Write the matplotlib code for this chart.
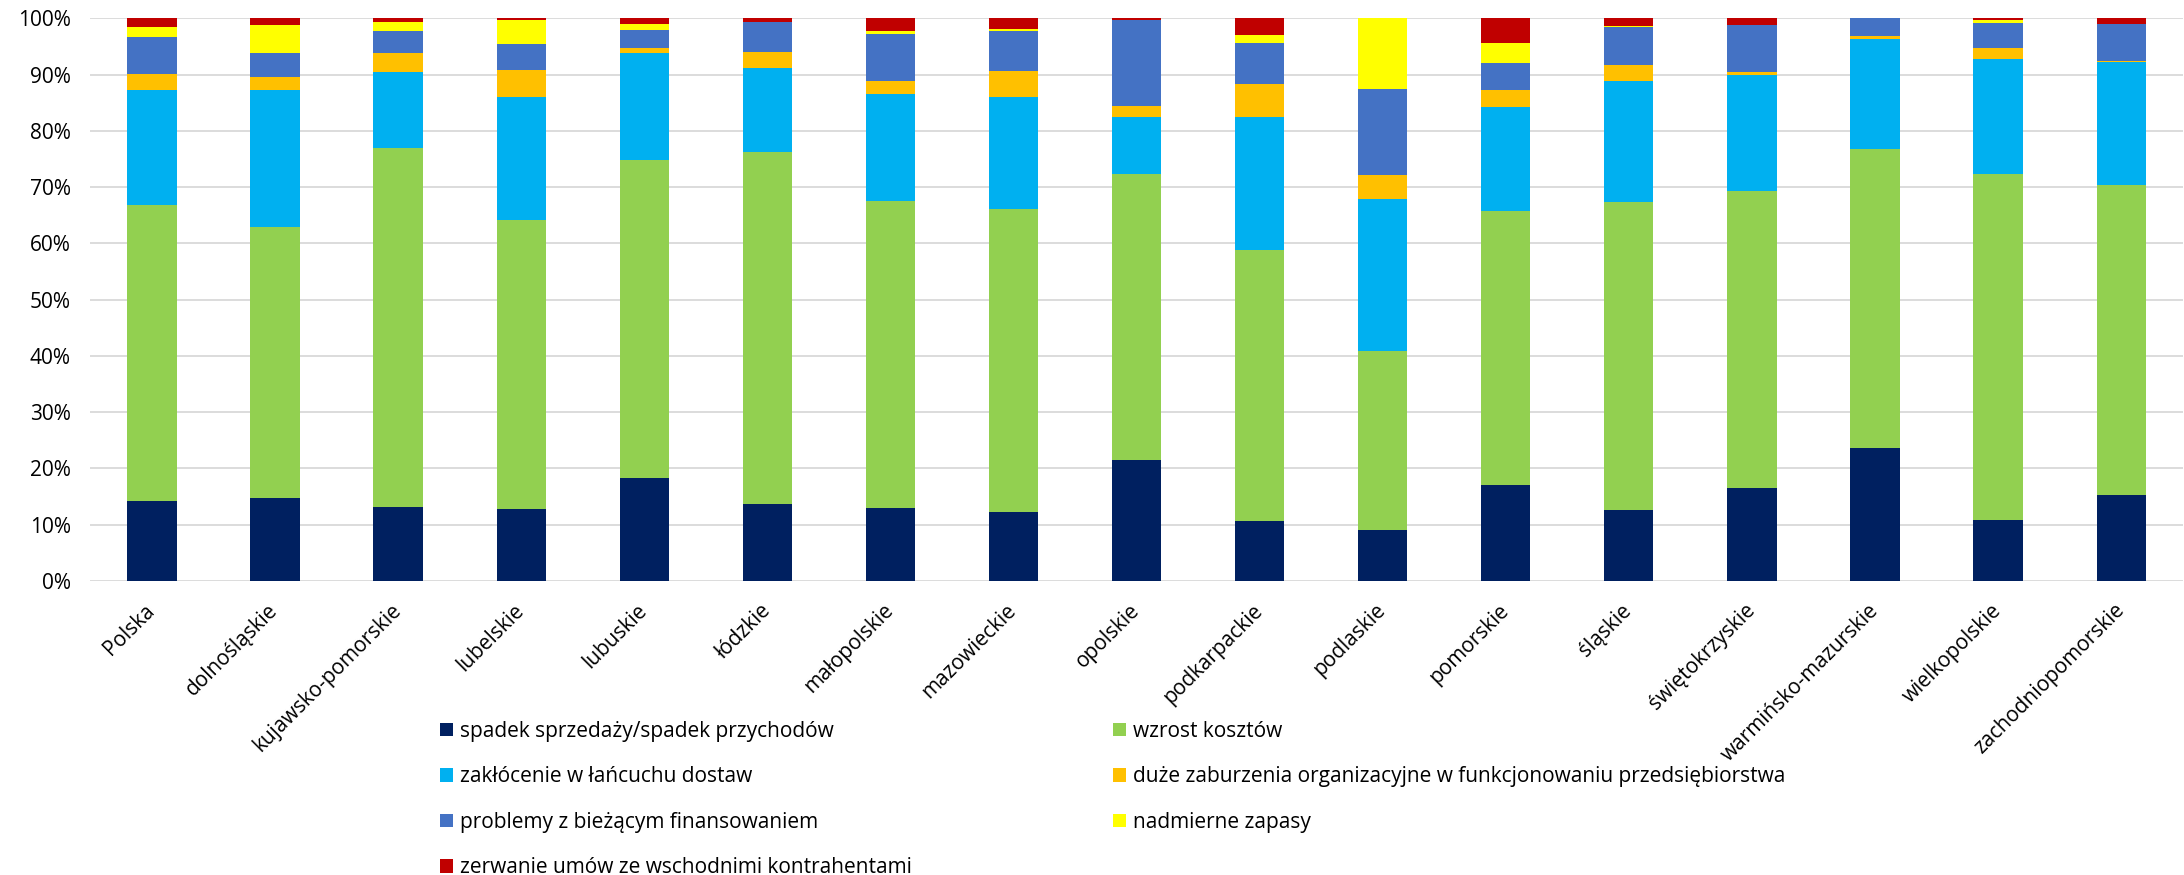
import numpy as np
import matplotlib
matplotlib.use('Agg')
import matplotlib.pyplot as plt
from matplotlib.ticker import PercentFormatter

plt.rcParams['font.family'] = ['Open Sans', 'DejaVu Sans']

# dane (udział w %)
regiony = ["Polska", "dolnośląskie", "kujawsko-pomorskie", "lubelskie", "lubuskie",
           "łódzkie", "małopolskie", "mazowieckie", "opolskie", "podkarpackie",
           "podlaskie", "pomorskie", "śląskie", "świętokrzyskie",
           "warmińsko-mazurskie", "wielkopolskie", "zachodniopomorskie"]

spadek_sprzedazy = [14.3, 14.7, 13.1, 12.8, 18.3, 13.7, 12.9, 12.2, 21.5, 10.7, 9.0, 17.1, 12.6, 16.5, 23.6, 10.9, 15.2]
wzrost_kosztow = [52.5, 48.3, 63.9, 51.4, 56.6, 62.5, 54.6, 54.0, 50.8, 48.2, 31.8, 48.7, 54.7, 52.8, 53.2, 61.4, 55.1]
zaklocenie_dostaw = [20.4, 24.3, 13.5, 21.8, 18.9, 15.0, 19.0, 19.9, 10.2, 23.5, 27.1, 18.5, 21.6, 20.6, 19.5, 20.5, 21.9]
zaburzenia_org = [2.9, 2.2, 3.3, 4.8, 1.0, 2.8, 2.3, 4.6, 1.9, 6.0, 4.3, 2.9, 2.8, 0.5, 0.6, 1.9, 0.3]
problemy_fin = [6.6, 4.3, 4.0, 4.7, 3.2, 5.3, 8.5, 7.1, 15.3, 7.3, 15.3, 4.9, 6.8, 8.4, 3.1, 4.5, 6.5]
nadmierne_zapasy = [1.8, 5.1, 1.5, 4.2, 1.0, 0.0, 0.4, 0.4, 0.0, 1.4, 12.5, 3.5, 0.2, 0.0, 0.0, 0.5, 0.0]
zerwanie_umow = [1.5, 1.1, 0.7, 0.3, 1.0, 0.7, 2.3, 1.8, 0.3, 2.9, 0.0, 4.4, 1.3, 1.2, 0.0, 0.3, 1.0]

serie = [
    ("spadek sprzedaży/spadek przychodów", spadek_sprzedazy, '#002060'),
    ("wzrost kosztów", wzrost_kosztow, '#92D050'),
    ("zakłócenie w łańcuchu dostaw", zaklocenie_dostaw, '#00B0F0'),
    ("duże zaburzenia organizacyjne w funkcjonowaniu przedsiębiorstwa", zaburzenia_org, '#FFC000'),
    ("problemy z bieżącym finansowaniem", problemy_fin, '#4472C4'),
    ("nadmierne zapasy", nadmierne_zapasy, '#FFFF00'),
    ("zerwanie umów ze wschodnimi kontrahentami", zerwanie_umow, '#C00000'),
]

fig = plt.figure(figsize=(21.84, 8.75), dpi=100)
ax = fig.add_axes([0.0414, 0.336, 0.958, 0.643])

x = np.arange(len(regiony))
dol = np.zeros(len(regiony))
uchwyty = {}
for nazwa, wartosci, kolor in serie:
    w = np.array(wartosci)
    b = ax.bar(x, w, bottom=dol, width=0.4, color=kolor, linewidth=0, label=nazwa)
    uchwyty[nazwa] = b
    dol = dol + w

ax.set_xlim(-0.5, len(regiony) - 0.5)
ax.set_ylim(0, 100)
ax.set_yticks(np.arange(0, 101, 10))
ax.yaxis.set_major_formatter(PercentFormatter(decimals=0))
ax.grid(axis='y', color='#d9d9d9', linewidth=1.3)
ax.set_axisbelow(True)
for s in ax.spines.values():
    s.set_visible(False)
ax.tick_params(axis='both', length=0, labelsize=15, colors='black')
ax.tick_params(axis='y', pad=14)
ax.set_xticks(x)
ax.set_xticklabels(regiony, rotation=45, ha='right', va='center', rotation_mode='anchor')
ax.tick_params(axis='x', pad=19)

# legenda - dwie kolumny ustawione osobno
opcje = dict(loc='upper left', frameon=False, fontsize=15, handlelength=0.62,
             handleheight=0.62, handletextpad=0.35, labelspacing=1.17,
             borderpad=0, borderaxespad=0)
kol1 = [0, 2, 4, 6]
kol2 = [1, 3, 5]
fig.legend([uchwyty[serie[i][0]] for i in kol1], [serie[i][0] for i in kol1],
           bbox_to_anchor=(0.2015, 0.176), **opcje)
fig.legend([uchwyty[serie[i][0]] for i in kol2], [serie[i][0] for i in kol2],
           bbox_to_anchor=(0.5095, 0.176), **opcje)

plt.savefig('out.png', dpi=100)
